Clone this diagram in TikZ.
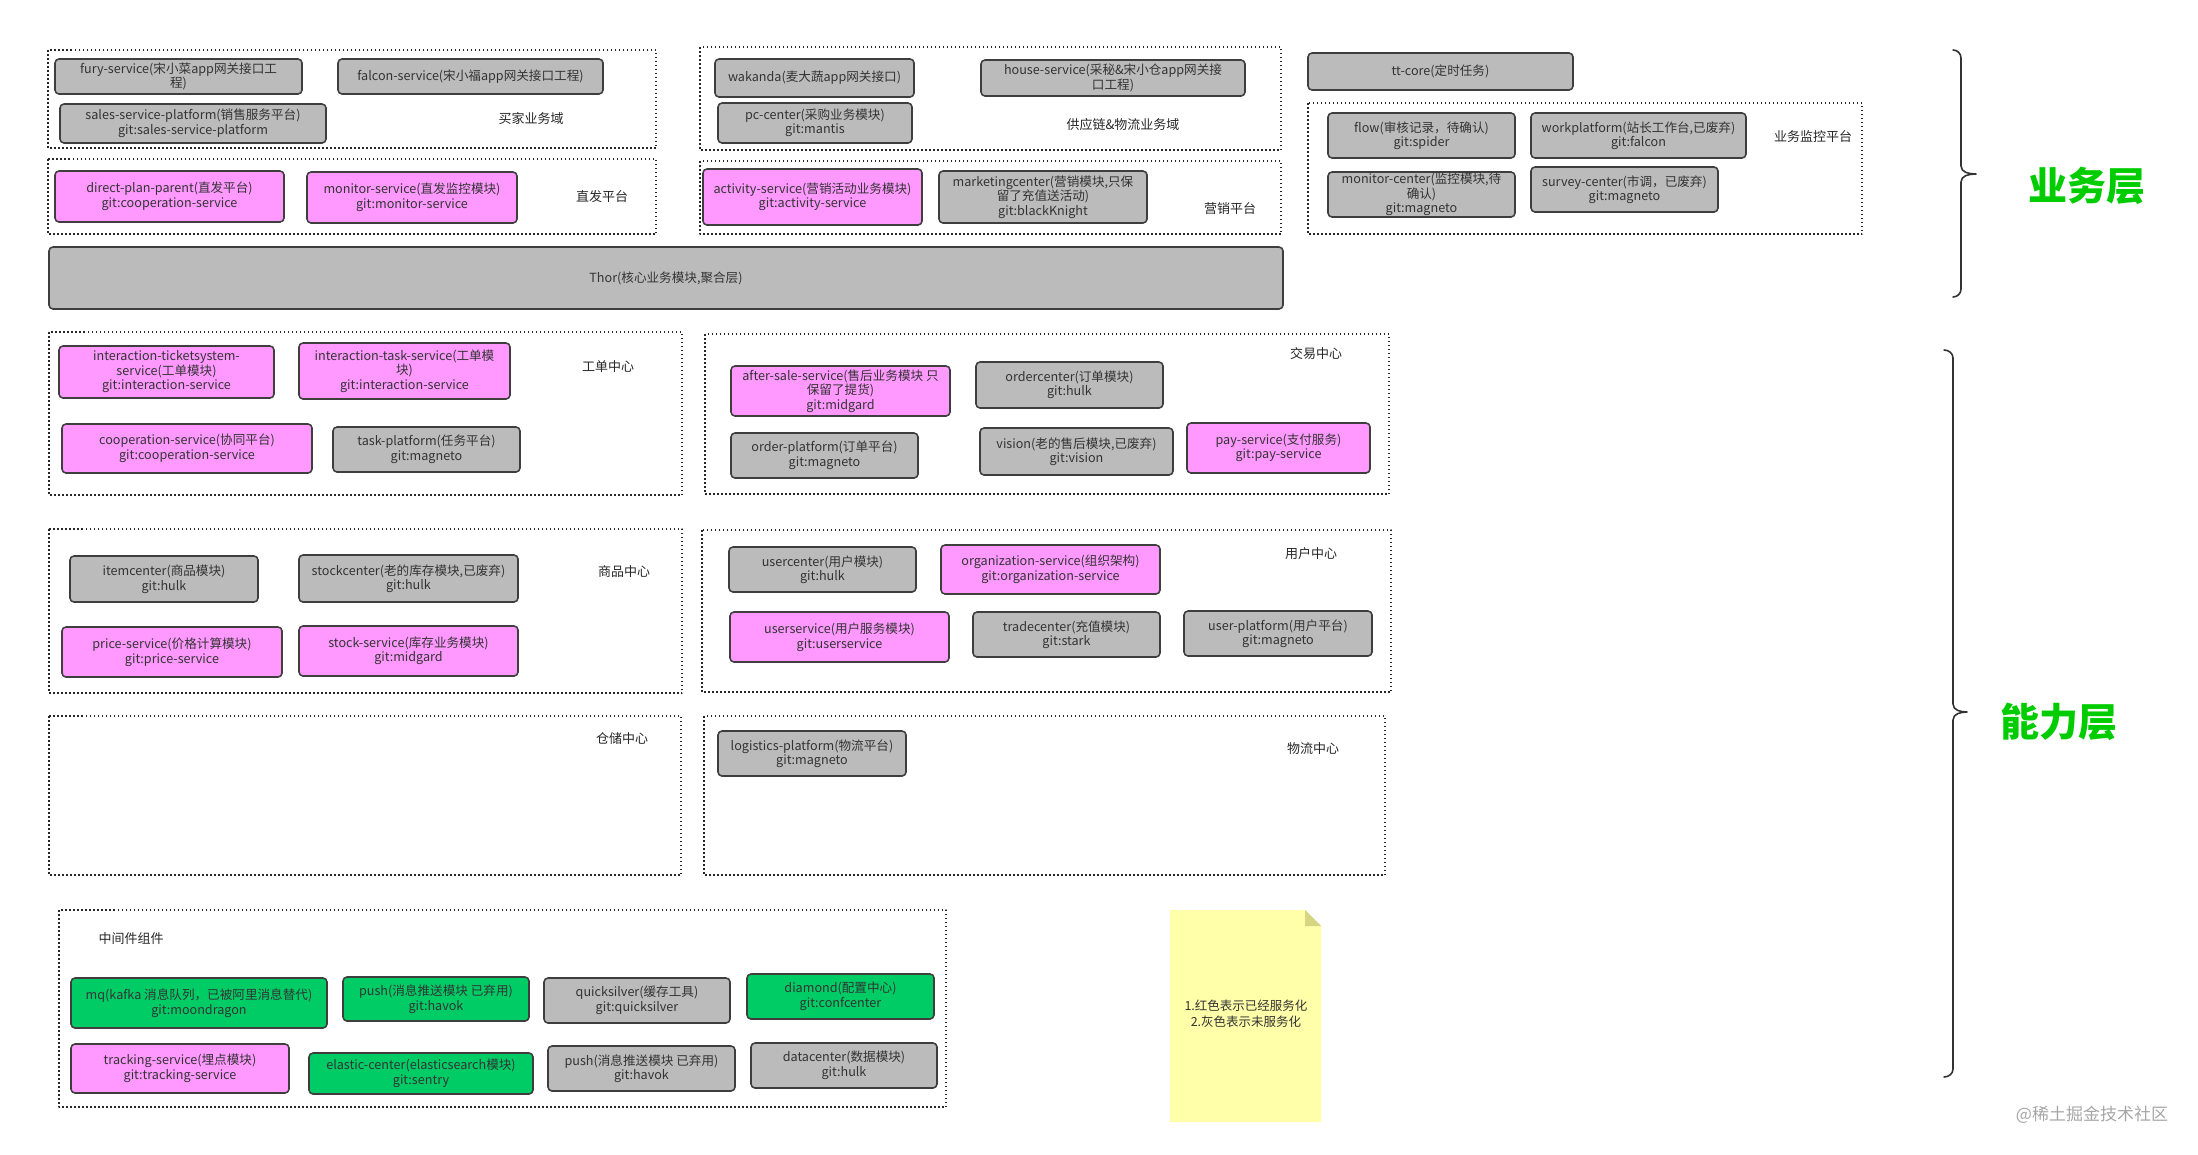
\documentclass[tikz,border=0pt]{standalone}
\usepackage{fontspec}
\setmainfont{Noto Sans CJK SC}
\usepackage{xcolor}
\usepackage{tikz}
\usetikzlibrary{calc,positioning}

\definecolor{boxgray}{RGB}{187,187,187}
\definecolor{boxpink}{RGB}{255,153,255}
\definecolor{boxgreen}{RGB}{0,204,102}
\definecolor{edgedark}{RGB}{62,62,62}
\definecolor{notefill}{RGB}{255,255,170}
\definecolor{notefold}{RGB}{214,214,130}
\definecolor{layergreen}{RGB}{0,204,0}
\definecolor{txtdark}{RGB}{51,51,51}

% one service box: fill, name, x1, y1, x2, y2, text
\newcommand{\svcbox}[7]{%
  \pgfmathsetmacro{\bxw}{#5-#3}\pgfmathsetmacro{\bxh}{#6-#4}%
  \node[svc,fill=#1,minimum width=\bxw pt,minimum height=\bxh pt] (#2)
    at ({(#3+#5)/2},{(#4+#6)/2}) {#7};}

\begin{document}
\begin{tikzpicture}[x=1pt,y=-1pt,line join=round,
  svc/.style={draw=edgedark,line width=1.6pt,rounded corners=4pt,inner sep=0pt,
    align=center,text=txtdark,font=\fontsize{12.6}{14.5}\selectfont},
  dotgrp/.style={draw=black!85,line width=1.5pt,line cap=butt,dash pattern=on 1.5pt off 2.5pt},
  grplbl/.style={text=black!85,font=\fontsize{13}{15}\selectfont},
  layerlbl/.style={text=layergreen,font=\fontsize{39}{44}\selectfont\bfseries},
  brc/.style={draw=black!80,line width=1.6pt,line cap=round}]
\useasboundingbox (0,0) rectangle (2198,1154);

%%% business layer
\draw[dotgrp] (48,50) rectangle (656,148);
\node[grplbl] (buyerlbl) at (531,119) {买家业务域};
\svcbox{boxgray}{fury}{55}{59}{302}{94}{fury-service(宋小菜app网关接口工\\程)}
\svcbox{boxgray}{falcon}{338}{59}{603}{94}{falcon-service(宋小福app网关接口工程)}
\svcbox{boxgray}{sales}{60}{104}{326}{143}{sales-service-platform(销售服务平台)\\git:sales-service-platform}

\draw[dotgrp] (48,159) rectangle (656,234);
\node[grplbl] (directlbl) at (602,197) {直发平台};
\svcbox{boxpink}{direct}{55}{171}{284}{222}{direct-plan-parent(直发平台)\\git:cooperation-service}
\svcbox{boxpink}{monsvc}{307}{172}{517}{223}{monitor-service(直发监控模块)\\git:monitor-service}

\draw[dotgrp] (700,47) rectangle (1281,150);
\node[grplbl] (supplylbl) at (1123,125) {供应链\&物流业务域};
\svcbox{boxgray}{wakanda}{715}{59}{914}{97}{wakanda(麦大蔬app网关接口)}
\svcbox{boxgray}{house}{981}{60}{1245}{96}{house-service(采秘\&宋小仓app网关接\\口工程)}
\svcbox{boxgray}{pc}{718}{103}{912}{143}{pc-center(采购业务模块)\\git:mantis}

\draw[dotgrp] (700,161) rectangle (1281,234);
\node[grplbl] (marketlbl) at (1230,209) {营销平台};
\svcbox{boxpink}{activity}{703}{169}{922}{225}{activity-service(营销活动业务模块)\\git:activity-service}
\svcbox{boxgray}{marketing}{939}{171}{1147}{223}{marketingcenter(营销模块,只保\\留了充值送活动)\\git:blackKnight}

\svcbox{boxgray}{ttcore}{1308}{53}{1573}{90}{tt-core(定时任务)}
\draw[dotgrp] (1308,103) rectangle (1862,234);
\node[grplbl] (monlbl) at (1813,137) {业务监控平台};
\svcbox{boxgray}{flow}{1328}{113}{1515}{158}{flow(审核记录，待确认)\\git:spider}
\svcbox{boxgray}{workplat}{1531}{113}{1746}{158}{workplatform(站长工作台,已废弃)\\git:falcon}
\svcbox{boxgray}{moncenter}{1328}{172}{1515}{217}{monitor-center(监控模块,待\\确认)\\git:magneto}
\svcbox{boxgray}{survey}{1531}{167}{1718}{212}{survey-center(市调，已废弃)\\git:magneto}

\svcbox{boxgray}{thor}{49}{247}{1283}{309}{Thor(核心业务模块,聚合层)}

%%% capability layer
\draw[dotgrp] (49,332) rectangle (682,495);
\node[grplbl] (ticketlbl) at (608,367) {工单中心};
\svcbox{boxpink}{ticketsys}{59}{346}{274}{398}{interaction-ticketsystem-\\service(工单模块)\\git:interaction-service}
\svcbox{boxpink}{tasksvc}{299}{343}{510}{399}{interaction-task-service(工单模\\块)\\git:interaction-service}
\svcbox{boxpink}{coop}{62}{424}{312}{473}{cooperation-service(协同平台)\\git:cooperation-service}
\svcbox{boxgray}{taskplat}{333}{427}{520}{472}{task-platform(任务平台)\\git:magneto}

\draw[dotgrp] (705,334) rectangle (1389,494);
\node[grplbl] (tradelbl) at (1316,354) {交易中心};
\svcbox{boxpink}{aftersale}{731}{366}{950}{416}{after-sale-service(售后业务模块 只\\保留了提货)\\git:midgard}
\svcbox{boxgray}{ordercenter}{976}{362}{1163}{408}{ordercenter(订单模块)\\git:hulk}
\svcbox{boxgray}{orderplat}{731}{433}{918}{478}{order-platform(订单平台)\\git:magneto}
\svcbox{boxgray}{vision}{980}{428}{1173}{475}{vision(老的售后模块,已废弃)\\git:vision}
\svcbox{boxpink}{pay}{1187}{423}{1370}{473}{pay-service(支付服务)\\git:pay-service}

\draw[dotgrp] (49,529) rectangle (682,693);
\node[grplbl] (itemlbl) at (624,572) {商品中心};
\svcbox{boxgray}{itemcenter}{70}{556}{258}{602}{itemcenter(商品模块)\\git:hulk}
\svcbox{boxgray}{stockcenter}{299}{555}{518}{602}{stockcenter(老的库存模块,已废弃)\\git:hulk}
\svcbox{boxpink}{price}{62}{627}{282}{677}{price-service(价格计算模块)\\git:price-service}
\svcbox{boxpink}{stocksvc}{299}{626}{518}{676}{stock-service(库存业务模块)\\git:midgard}

\draw[dotgrp] (702,530) rectangle (1391,692);
\node[grplbl] (userlbl) at (1311,554) {用户中心};
\svcbox{boxgray}{usercenter}{729}{547}{916}{592}{usercenter(用户模块)\\git:hulk}
\svcbox{boxpink}{org}{941}{545}{1160}{594}{organization-service(组织架构)\\git:organization-service}
\svcbox{boxpink}{usersvc}{730}{612}{949}{662}{userservice(用户服务模块)\\git:userservice}
\svcbox{boxgray}{tradecenter}{973}{612}{1160}{657}{tradecenter(充值模块)\\git:stark}
\svcbox{boxgray}{userplat}{1184}{611}{1372}{656}{user-platform(用户平台)\\git:magneto}

\draw[dotgrp] (49,716) rectangle (681,875);
\node[grplbl] (storelbl) at (622,739) {仓储中心};
\draw[dotgrp] (704,716) rectangle (1385,875);
\node[grplbl] (logilbl) at (1313,749) {物流中心};
\svcbox{boxgray}{logistics}{718}{731}{906}{776}{logistics-platform(物流平台)\\git:magneto}

%%% middleware
\draw[dotgrp] (59,910) rectangle (946,1107);
\node[grplbl] (midlbl) at (131,939) {中间件组件};
\svcbox{boxgreen}{mq}{71}{978}{327}{1028}{mq(kafka 消息队列，已被阿里消息替代)\\git:moondragon}
\svcbox{boxgreen}{pushA}{343}{977}{529}{1021}{push(消息推送模块 已弃用)\\git:havok}
\svcbox{boxgray}{quicksilver}{544}{978}{730}{1023}{quicksilver(缓存工具)\\git:quicksilver}
\svcbox{boxgreen}{diamond}{747}{974}{934}{1019}{diamond(配置中心)\\git:confcenter}
\svcbox{boxpink}{tracking}{71}{1044}{289}{1093}{tracking-service(埋点模块)\\git:tracking-service}
\svcbox{boxgreen}{elastic}{309}{1053}{533}{1094}{elastic-center(elasticsearch模块)\\git:sentry}
\svcbox{boxgray}{pushB}{548}{1046}{735}{1091}{push(消息推送模块 已弃用)\\git:havok}
\svcbox{boxgray}{datacenter}{751}{1043}{937}{1088}{datacenter(数据模块)\\git:hulk}

%%% note
\fill[notefill] (1170,910) -- (1305,910) -- (1321,926) -- (1321,1122) -- (1170,1122) -- cycle;
\fill[notefold] (1305,910) -- (1321,926) -- (1305,926) -- cycle;
\node[align=center,text=txtdark,font=\fontsize{12.5}{16}\selectfont] (note) at (1246,1014) {1.红色表示已经服务化\\2.灰色表示未服务化};

%%% layer braces
\draw[brc] (1953,50) to[out=0,in=90] (1961,58) -- (1961,166) to[out=-90,in=180] (1976,174)
  to[out=180,in=90] (1961,182) -- (1961,289) to[out=-90,in=0] (1953,297);
\node[layerlbl] (bizlayer) at (2087,186) {业务层};
\draw[brc] (1944,350) to[out=0,in=90] (1953,358) -- (1953,704) to[out=-90,in=180] (1967,712)
  to[out=180,in=90] (1953,720) -- (1953,1069) to[out=-90,in=0] (1944,1077);
\node[layerlbl] (abilitylayer) at (2059,722) {能力层};

\node[text=black!35,font=\fontsize{17}{20}\selectfont] (mark) at (2092,1115) {@稀土掘金技术社区};
\end{tikzpicture}
\end{document}
